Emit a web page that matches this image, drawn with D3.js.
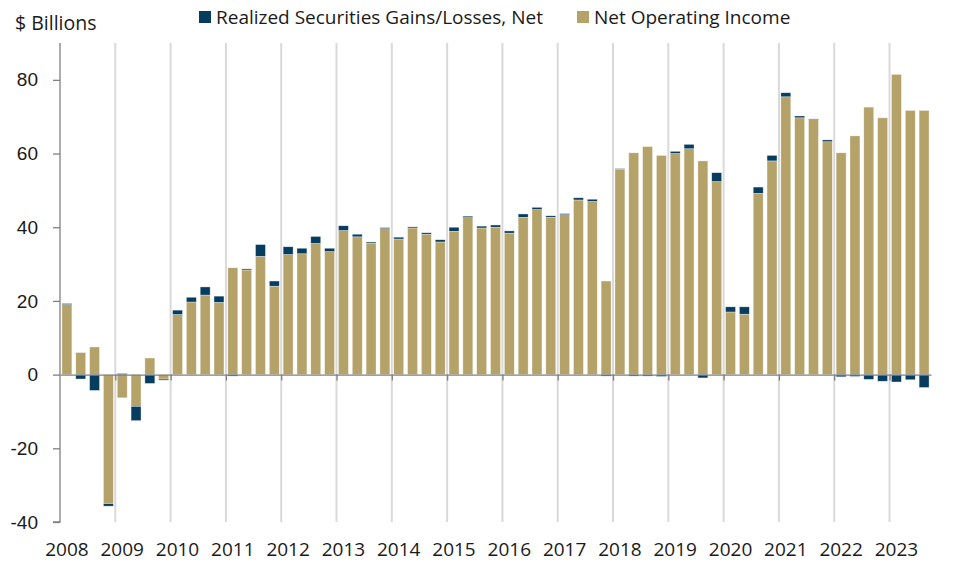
<!DOCTYPE html>
<html>
<head>
<meta charset="utf-8">
<script src="https://d3js.org/d3.v7.min.js"></script>
<style>
  body { margin: 0; background: #fff; }
  svg { font-family: "Open Sans", sans-serif; }
  .bar { stroke: rgba(255,255,255,0.6); stroke-width: 0.6; }
  .grid line { stroke: #d9d9d9; stroke-width: 2; }
  .axis path, .axis line { stroke: #808080; stroke-width: 1.3; }
  .axis text { font-size: 19px; fill: #1a1a1a; }
</style>
</head>
<body>
<svg class="chart" width="958" height="562"></svg>
<script>

  var years = d3.range(2008, 2024);
  var quarters = [];
  years.forEach(yr => { [1,2,3,4].forEach(q => { if (yr < 2023 || q < 4) quarters.push(yr + "Q" + q); }); });

  // $ billions
  var netOperatingIncome = [
    19.0, 6.0, 7.5, -35.0,
    -6.3, -8.6, 4.5, -1.2,
    16.3, 19.7, 21.6, 19.6,
    29.0, 28.4, 32.1, 24.0,
    32.6, 32.8, 35.6, 33.4,
    39.1, 37.4, 35.7, 39.6,
    36.8, 39.8, 38.1, 36.0,
    38.9, 42.6, 39.8, 40.0,
    38.4, 42.7, 44.8, 42.7,
    43.4, 47.4, 47.0, 25.4,
    55.7, 60.2, 61.9, 59.5,
    60.0, 61.3, 58.0, 52.4,
    17.0, 16.4, 49.2, 58.0,
    75.4, 69.7, 69.2, 63.2,
    60.2, 64.8, 72.6, 69.7,
    81.5, 71.7, 71.7
  ];
  var realizedGains = [
    0.3, -1.2, -4.3, -0.7,
    0.3, -3.9, -2.4, -0.3,
    1.2, 1.3, 2.2, 1.7,
    -0.4, 0.3, 3.2, 1.4,
    2.1, 1.5, 1.9, 0.9,
    1.3, 0.7, 0.3, 0.3,
    0.5, 0.3, 0.4, 0.6,
    1.1, 0.4, 0.5, 0.6,
    0.6, 0.9, 0.6, 0.4,
    0.3, 0.6, 0.6, -0.4,
    0.2, -0.4, -0.4, -0.5,
    0.6, 1.2, -0.9, 2.4,
    1.4, 2.0, 1.7, 1.5,
    1.1, 0.5, 0.2, 0.5,
    -0.6, -0.5, -1.3, -1.8,
    -2.0, -1.4, -3.5
  ];
  var yTicks = [-40, -20, 0, 20, 40, 60, 80];
  var seriesNames = ["Realized Securities Gains/Losses, Net", "Net Operating Income"];
  var colors = { noi: "#b4a269", gains: "#063d5f" };

  var rows = quarters.map((q, i) => ({ q: q, noi: netOperatingIncome[i], gains: realizedGains[i] }));

  var svg = d3.select("svg");
  var plotL = 60, plotR = 931, plotT = 43, plotB = 522;

  var x = d3.scaleBand().domain(quarters).range([plotL, plotR]).paddingInner(0.28).paddingOuter(0.14);
  var xIdx = d3.scaleLinear().domain([0, quarters.length]).range([plotL, plotR]);
  var y = d3.scaleLinear().domain([-40, 90]).range([plotB, plotT]);

  // year gridlines
  var yearStarts = years.slice(1).map(yr => quarters.indexOf(yr + "Q1"));
  svg.append("g").attr("class", "grid")
    .selectAll("line").data(yearStarts).enter().append("line")
    .attr("x1", d => xIdx(d)).attr("x2", d => xIdx(d))
    .attr("y1", plotT).attr("y2", plotB);

  // stacked bars
  var stack = d3.stack().keys(["noi", "gains"]).offset(d3.stackOffsetDiverging);
  var layers = stack(rows);

  svg.append("g").selectAll("g").data(layers).enter().append("g")
    .attr("fill", d => colors[d.key])
    .selectAll("rect").data(d => d).enter().append("rect")
    .attr("class", "bar")
    .attr("x", d => x(d.data.q))
    .attr("width", x.bandwidth())
    .attr("y", d => y(Math.max(d[0], d[1])))
    .attr("height", d => Math.abs(y(d[0]) - y(d[1])));

  // y axis
  svg.append("g").attr("class", "axis")
    .attr("transform", `translate(${plotL},0)`)
    .call(d3.axisLeft(y).tickValues(yTicks).tickFormat(d => String(d))
      .tickSize(7).tickPadding(15).tickSizeOuter(0))
    .call(g => g.select(".domain").attr("d", `M0,${plotT}V${plotB}H-7`));

  // zero line with year ticks
  svg.append("g").attr("class", "axis")
    .attr("transform", `translate(0,${y(0)})`)
    .call(d3.axisBottom(xIdx).tickValues(yearStarts).tickSize(6).tickFormat("").tickSizeOuter(0));

  // year labels
  svg.append("g").selectAll("text").data(years).enter().append("text")
    .attr("x", d => x(d + "Q1") + x.bandwidth() / 2)
    .attr("y", 556)
    .attr("text-anchor", "middle")
    .style("font-size", "19px").style("fill", "#1a1a1a")
    .text(d => d);

  // unit label
  svg.append("text").attr("x", 15).attr("y", 30)
    .style("font-size", "19.5px").style("fill", "#1a1a1a")
    .text("$ Billions");

  // legend
  var legend = svg.append("g").selectAll("g").data(seriesNames).enter().append("g")
    .attr("transform", (d, i) => `translate(${[199, 577][i]},11)`);
  legend.append("rect").attr("width", 12).attr("height", 12)
    .attr("fill", (d, i) => i === 0 ? colors.gains : colors.noi);
  legend.append("text").attr("x", 17).attr("y", 13)
    .style("font-size", "19px").style("fill", "#1a1a1a")
    .text(d => d);

</script>
</body>
</html>
